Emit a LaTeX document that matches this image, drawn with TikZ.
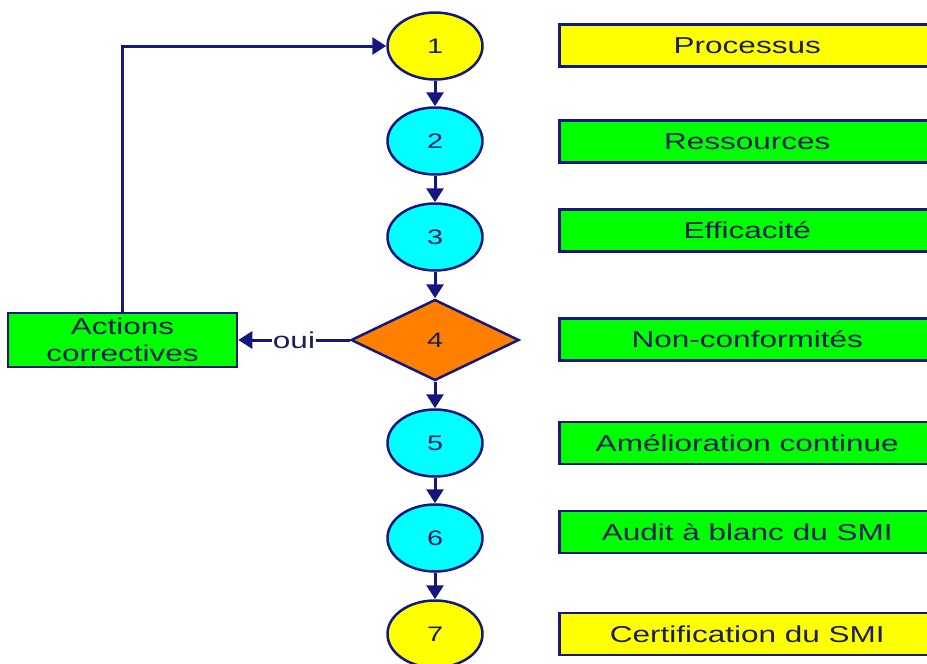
\documentclass[tikz,border=0pt]{standalone}
\usepackage{fontspec}
\setmainfont{Liberation Sans}
\usetikzlibrary{shapes.geometric,arrows.meta}
\definecolor{navy}{RGB}{22,22,128}
\definecolor{txt}{RGB}{26,30,92}
\definecolor{ygold}{RGB}{255,255,0}
\definecolor{cyn}{RGB}{0,255,255}
\definecolor{grn}{RGB}{0,255,0}
\definecolor{org}{RGB}{255,128,0}
\newcommand{\wt}[1]{\scalebox{1.37}[1]{#1}}
\tikzset{
  stepell/.style={ellipse, draw=navy, line width=2.5pt, minimum width=95pt, minimum height=67pt, inner sep=0pt, text=txt, font=\fontsize{21}{25}\selectfont},
  labbox/.style={rectangle, draw=navy, line width=2.5pt, minimum width=376pt, minimum height=42pt, anchor=west, inner sep=0pt, text=txt, font=\fontsize{23}{27}\selectfont},
  flow/.style={draw=navy, line width=3pt, -{Triangle[length=14pt,width=17pt]}}
}
\begin{document}
\begin{tikzpicture}[x=1pt,y=-1pt]
\useasboundingbox (0,0) rectangle (927,664);
\node[stepell, fill=ygold] (n1) at (435,46) {\wt{1}};
\node[stepell, fill=cyn] (n2) at (435,141) {\wt{2}};
\node[stepell, fill=cyn] (n3) at (435,237) {\wt{3}};
\node[diamond, draw=navy, line width=2.5pt, fill=org, minimum width=168pt, minimum height=81pt, inner sep=0pt, text=txt, font=\fontsize{21}{25}\selectfont] (n4) at (435,340) {\wt{4}};
\node[stepell, fill=cyn] (n5) at (435,443) {\wt{5}};
\node[stepell, fill=cyn] (n6) at (435,538) {\wt{6}};
\node[stepell, fill=ygold] (n7) at (435,634) {\wt{7}};

\node[labbox, fill=ygold] (b1) at (558,45.5) {\wt{Processus}};
\node[labbox, fill=grn] (b2) at (558,141.5) {\wt{Ressources}};
\node[labbox, fill=grn] (b3) at (558,230.5) {\wt{Efficacité}};
\node[labbox, fill=grn] (b4) at (558,339.5) {\wt{Non-conformités}};
\node[labbox, fill=grn] (b5) at (558,443) {\wt{Amélioration continue}};
\node[labbox, fill=grn] (b6) at (558,532) {\wt{Audit à blanc du SMI}};
\node[labbox, fill=ygold] (b7) at (558,634) {\wt{Certification du SMI}};

\node[rectangle, draw=navy, line width=2.5pt, fill=grn, minimum width=229pt, minimum height=54pt, inner sep=0pt, text=txt, align=center, font=\fontsize{23}{27}\selectfont] (act) at (122.5,340) {\wt{Actions}\\\wt{correctives}};

\draw[flow] (n1) -- (n2);
\draw[flow] (n2) -- (n3);
\draw[flow] (n3) -- (n4);
\draw[flow] (n4) -- (n5);
\draw[flow] (n5) -- (n6);
\draw[flow] (n6) -- (n7);
\draw[flow] (n4.west) -- node[fill=white, inner sep=1pt, text=txt, font=\fontsize{23}{27}\selectfont] {\wt{oui}} (act.east);
\draw[flow] (act.north) |- (n1.west);
\end{tikzpicture}
\end{document}
